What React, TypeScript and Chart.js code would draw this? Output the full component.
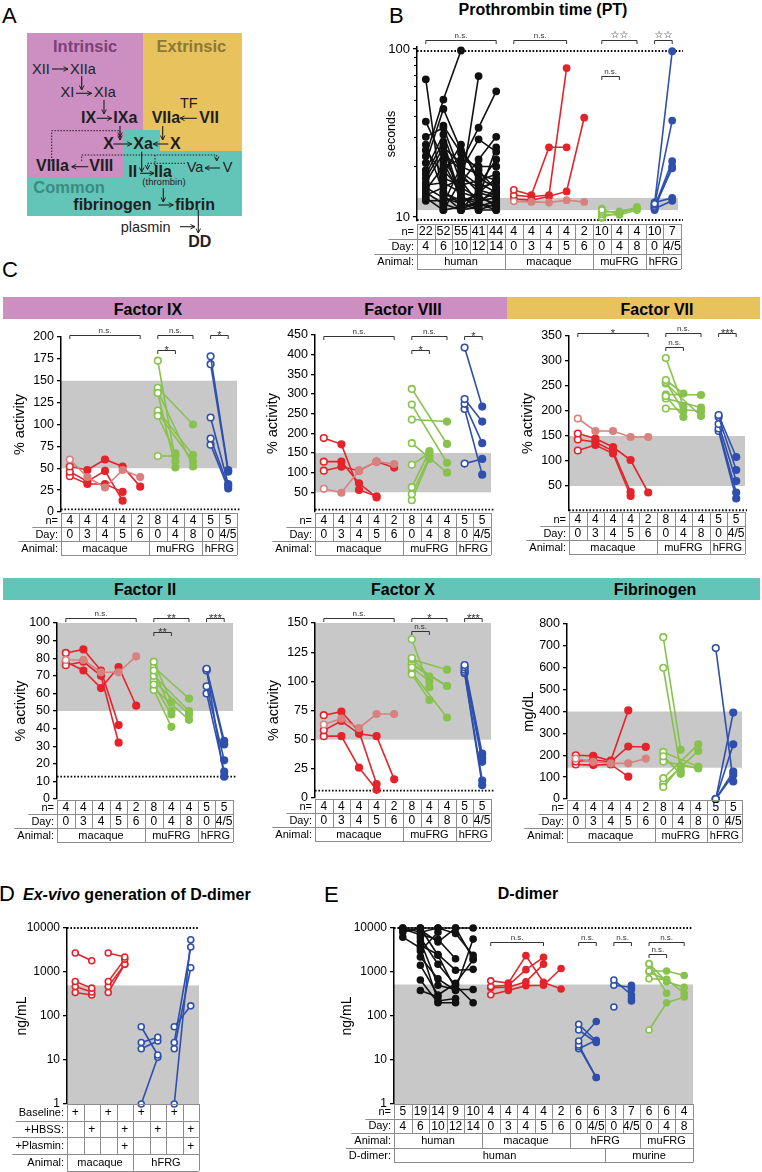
import React, { useEffect, useRef } from 'react';
import { Chart, registerables } from 'chart.js';

Chart.register(...registerables);

type V = number | null;
type Cell = [string, number];

const FONT = '"Liberation Sans", Arial, Helvetica, sans-serif';
const RED = '#e4232b';
const PALE = '#d8817f';
const GREEN = '#87c24d';
const BLUE = '#2f4fad';
const BLACK = '#111111';
const BAND = '#c8c8c8';
const GRID = '#8c8c8c';
const PINK = '#cd8fc1';
const GOLD = '#e8c25c';
const TEAL = '#63c5b8';
const DARK = '#1e1e1e';

const each = (a: string[]): Cell[] => a.map((t) => [t, 1] as Cell);

// ---------------- Panel B : Prothrombin time (seconds) ----------------
const PT_TICKS = [10, 100];
const PT_MINOR = [20, 30, 40, 50, 60, 70, 80, 90];
const PT_NORMAL = [11, 13];
const PT_LIMITS = [97.3, 9.6];
const PT_N = ['22', '52', '55', '41', '44', '4', '4', '4', '4', '2', '10', '4', '4', '10', '7'];
const PT_DAY = ['4', '6', '10', '12', '14', '0', '3', '4', '5', '6', '0', '4', '8', '0', '4/5'];
const PT_ANIMAL: Cell[] = [['human', 5], ['macaque', 5], ['muFRG', 3], ['hFRG', 2]];
const PT_HUMAN: V[][] = [
  [66, 11.5, null, null, null],
  [37, 22, 15, 13, 12],
  [30, 34, 18, 14, 13],
  [27, 14, 12, 11.5, null],
  [25, 18, 27, 16, 14],
  [23, 50, 98, null, null],
  [21, 44, 25, 17, 15],
  [19, 31, 16, 22, 30],
  [18, 28, 13, 12, 11.5],
  [17, 26, 21, 34, 56],
  [16, 24, 19, 29, 24.5],
  [15.5, 16, 14, 13, 26],
  [15, 13, 12, 14, 17],
  [14.5, 20, 22, 20, 20],
  [14, 12, 11, 11.5, 12.5],
  [13.5, 15, 17, 15, 16],
  [13, 11, 11.5, 12, 11],
  [12.5, 12.5, 13, 12.5, 13],
  [null, 35, 24, 19, 14.5],
  [null, 19, 14.5, 69, null],
  [null, 17, 15.5, 16.5, 18],
  [null, 14, 12.5, 13.5, 11.5],
  [null, 11, 16.5, 12, 15],
  [null, 21, 13.5, 11, 12],
  [null, 13.5, 11, 14.5, 13.5],
  [null, 12, 20, 18, 16.5],
  [null, 26.5, 12, 11, 11],
  [null, null, 11, 12.5, 14],
  [null, null, 18.5, 15.5, 22],
];
const PT_MAC: V[][] = [
  [14.5, 13.5, 26, 26, null],
  [13.5, 13.2, 13.5, 77, null],
  [12.8, 12.6, 13.3, 14.2, 39],
];
const PT_MAC_PALE: V[][] = [[12.4, 12.3, 12.2, 12.6, 12.3]];
const PT_MU: V[][] = [
  [11.0, 10.5, 11.5], [10.7, 10.8, 11.3], [10.4, 10.3, 11.0], [10.0, 10.6, 11.2],
  [10.9, null, null], [10.2, null, null], [9.9, null, null], [10.6, null, null], [11.2, null, null], [10.1, null, null],
];
const PT_HU: V[][] = [
  [12.0, 97], [11.8, 37.5], [11.5, 21.5], [11.3, 20], [11.6, 19.5], [11.2, 12.5], [12.2, 13],
  [11.0, null], [11.9, null], [11.4, null],
];

// ---------------- Panel C : shared table ----------------
const C_N = ['4', '4', '4', '4', '2', '8', '4', '4', '5', '5'];
const C_DAY = ['0', '3', '4', '5', '6', '0', '4', '8', '0', '4/5'];
const C_ANIMAL: Cell[] = [['macaque', 5], ['muFRG', 3], ['hFRG', 2]];

// Factor IX (% activity)
const FIX_TICKS = [0, 25, 50, 75, 100, 125, 150, 175, 200];
const FIX_NORMAL = [50, 150];
const FIX_MAC: V[][] = [[52, 48, 60, 52, 29], [46, 35, 47, 13, null], [41, 32, 32, 23, null]];
const FIX_MAC_PALE: V[][] = [[60, 40, 28, 48, 40]];
const FIX_MU: V[][] = [
  [173, 58, null], [136, 51, null], [110, 67, null], [64, 64, null],
  [142, null, 100], [116, null, 65], [113, null, 58], [138, null, 52],
];
const FIX_HU: V[][] = [[178, 48], [169, 46], [108, 32], [84, 30], [77, 27]];

// Factor VIII
const FVIII_TICKS = [50, 100, 150, 200, 250, 300, 350, 400, 450];
const FVIII_NORMAL = [50, 150];
const FVIII_MAC: V[][] = [[188, 172, 56, 40, null], [128, 128, 73, 37, null], [105, 115, 105, 128, 113]];
const FVIII_MAC_PALE: V[][] = [[59, 49, 105, 128, 122]];
const FVIII_MU: V[][] = [
  [120, 150, null], [63, 155, null], [45, 140, null], [30, 135, null],
  [313, null, 173], [273, null, 125], [235, null, 230], [175, null, 100],
];
const FVIII_HU: V[][] = [[418, 268], [287, 230], [275, 175], [262, 95], [123, 135]];

// Factor VII
const FVII_TICKS = [50, 100, 150, 200, 250, 300, 350];
const FVII_NORMAL = [50, 150];
const FVII_MAC: V[][] = [[155, 145, 128, 102, 37], [143, 138, 120, 38, null], [121, 132, 115, 30, null]];
const FVII_MAC_PALE: V[][] = [[185, 160, 160, 148, 148]];
const FVII_MU: V[][] = [
  [306, 210, null], [262, 235, null], [258, 200, null], [230, 188, null],
  [233, null, 232], [225, null, 207], [205, null, 200], [255, null, 190],
];
const FVII_HU: V[][] = [[192, 108], [188, 82], [174, 60], [165, 37], [160, 25]];

// Factor II
const FII_TICKS = [0, 10, 20, 30, 40, 50, 60, 70, 80, 90, 100];
const FII_NORMAL = [50, 100];
const FII_MAC: V[][] = [[83, 85, 73, 42, null], [76, 78, 70, 32, null], [78, 73, 63, 75, 53]];
const FII_MAC_PALE: V[][] = [[79, 79, 72, 72, 81]];
const FII_MU: V[][] = [
  [78, 55, null], [73, 50, null], [65, 48, null], [62, 41, null],
  [75, null, 57], [70, null, 50], [67, null, 48], [63, null, 45],
];
const FII_HU: V[][] = [[74, 33], [73, 31], [64, 22], [60, 15.5], [73.5, 12.7]];

// Factor X
const FX_TICKS = [0, 25, 50, 75, 100, 125, 150];
const FX_NORMAL = [50, 150];
const FX_MAC: V[][] = [[71, 74, 57, 12, null], [58, 66, 55, 53, 16], [53, 53, 26, 7, null]];
const FX_MAC_PALE: V[][] = [[63, 68, 60, 72, 72]];
const FX_MU: V[][] = [
  [136, 95, null], [120, 104, null], [112, 100, null], [106, 84, null],
  [119, null, 110], [115, null, 96], [108, null, 69], [114, null, 96],
];
const FX_HU: V[][] = [[114, 38], [112, 34], [110, 31], [108, 15], [107, 11]];

// Fibrinogen (mg/dL)
const FIB_TICKS = [0, 100, 200, 300, 400, 500, 600, 700, 800];
const FIB_NORMAL = [143, 400];
const FIB_MAC: V[][] = [[200, 197, 175, 405, null], [172, 178, 170, 240, 238], [158, 155, 158, 102, null]];
const FIB_MAC_PALE: V[][] = [[185, 170, 163, 163, 185]];
const FIB_MU: V[][] = [
  [740, 225, null], [600, 130, null], [55, 150, null], [195, 115, null],
  [215, null, 148], [172, null, 140], [95, null, 250], [70, null, 220],
];
const FIB_HU: V[][] = [[690, 80], [0, 395], [0, 250], [0, 110], [0, 125]];

// ---------------- Panel D : ex-vivo D-dimer (ng/mL) ----------------
const DD_TICKS = [1, 10, 100, 1000, 10000];
const DD_NORMAL = [1, 495];
const D_BASE = ['+', '', '+', '', '+', '', '+', ''];
const D_HBSS = ['', '+', '', '+', '', '+', '', '+'];
const D_PLAS = ['', '', '', '+', '', '', '', '+'];
const D_ANIMAL: Cell[] = [['macaque', 4], ['hFRG', 4]];
const D_MAC_HBSS: V[][] = [[2700, 1800], [610, 430], [470, 350], [343, 300]];
const D_MAC_PLAS: V[][] = [[2700, 2200], [610, 1960], [470, 1510], [343, 1500]];
const D_HU_HBSS: V[][] = [[57, 13], [25, 33], [18, 27], [1, 11.5]];
const D_HU_PLAS: V[][] = [[57, 170], [25, 3700], [18, 1250], [1, 5400]];

// ---------------- Panel E : D-dimer (ng/mL) ----------------
const E_N = ['5', '19', '14', '9', '10', '4', '4', '4', '4', '2', '6', '6', '3', '7', '6', '6', '4'];
const E_DAY = ['4', '6', '10', '12', '14', '0', '3', '4', '5', '6', '0', '4/5', '0', '4/5', '0', '4', '8'];
const E_ANIMAL: Cell[] = [['human', 5], ['macaque', 5], ['hFRG', 4], ['muFRG', 3]];
const E_DD: Cell[] = [['human', 12], ['murine', 5]];
const E_NORMAL = [1, 520];
const E_HUMAN: V[][] = [
  [10000, 10000, 10000, 10000, 10000],
  [9500, 7000, 5500, 2000, null],
  [8000, 10000, 2400, 400, 5600],
  [6200, 3500, 220, 250, null],
  [10000, 8000, 10000, 7500, 2400],
  [null, 6000, 1500, 500, 200],
  [null, 5000, 500, 400, 400],
  [null, 4000, 2500, 1100, 1150],
  [null, 2200, 700, 380, null],
  [null, 1420, 300, 550, 1900],
  [null, 660, 200, 200, null],
  [null, 380, 270, null, null],
  [null, 9000, 4800, 10000, 2000],
  [null, 3000, 8000, null, null],
];
const E_MAC: V[][] = [[630, 560, 2350, 580, 410], [470, 500, 1130, 2150, null], [440, 450, 600, 1510, null], [305, 380, 490, 500, 1200]];
const E_HFRG_H: V[][] = [[65, 27], [48, 25], [27, 75], [22, 4], [20, 4], [18, 28]];
const E_HFRG_M: V[][] = [[660, 300], [500, 450], [160, null], [null, 500], [null, 400], [null, 250], [null, 220]];
const E_MU: V[][] = [[1550, 600, 450], [1050, 1050, 830], [700, 680, 330], [48, 200, 270], [1500, 330, null], [1000, 650, null]];

// ---------------- chart configs ----------------
const cRows = () => [
  { label: 'n=', cells: each(C_N), size: 12 },
  { label: 'Day:', cells: each(C_DAY), size: 12 },
  { label: 'Animal:', cells: C_ANIMAL, size: 11 },
];
const cGroups = (mac: V[][], pale: V[][], mu: V[][], hu: V[][]) => [
  { rows: pale, start: 0, color: PALE },
  { rows: mac, start: 0, color: RED },
  { rows: mu, start: 5, color: GREEN },
  { rows: hu, start: 8, color: BLUE },
];

const CHART_B = {
  box: [370, 24, 690, 272], plot: [417, 47, 681, 221], ncols: 15, log: true,
  yMin: 9.47, yMax: 102.8, ticks: PT_TICKS, minor: PT_MINOR, tickSize: 13,
  yTitle: 'seconds', titleSize: 12.5, titleX: 392,
  band: PT_NORMAL, bandRight: 678, dotted: PT_LIMITS, dottedRight: 683,
  groups: [
    { rows: PT_HUMAN, start: 0, color: BLACK },
    { rows: PT_MAC_PALE, start: 5, color: PALE },
    { rows: PT_MAC, start: 5, color: RED },
    { rows: PT_MU, start: 10, color: GREEN },
    { rows: PT_HU, start: 13, color: BLUE },
  ],
  openCols: [5, 10, 13],
  brackets: [[0, 4, 'n.s.', 0], [5, 8, 'n.s.', 0], [10, 12, '☆☆', 0], [10, 11, 'n.s.', 1], [13, 14, '☆☆', 0]],
  bracketY: [-7, 29],
  rows: [
    { label: 'n=', cells: each(PT_N), size: 12.5 },
    { label: 'Day:', cells: each(PT_DAY), size: 12.5 },
    { label: 'Animal:', cells: PT_ANIMAL, size: 11 },
  ],
  tableGap: 3, rowH: 15, radius: 3.1,
};

const CHART_FIX = {
  box: [3, 321, 246, 560], plot: [61, 337, 237, 512], ncols: 10,
  yMin: 0, yMax: 200, ticks: FIX_TICKS, tickSize: 12.5,
  yTitle: '% activity', titleSize: 14.5, titleX: 20,
  band: FIX_NORMAL, bandRight: 237, dotted: [3], dottedRight: 240,
  groups: cGroups(FIX_MAC, FIX_MAC_PALE, FIX_MU, FIX_HU), openCols: [0, 5, 8],
  brackets: [[0, 4, 'n.s.', 0], [5, 7, 'n.s.', 0], [5, 6, '*', 1], [8, 9, '*', 0]],
  bracketY: [-2, 13], rows: cRows(), tableGap: 1, rowH: 14, radius: 3.3,
};
const CHART_FVIII = {
  box: [257, 321, 500, 560], plot: [315, 335, 491, 512], ncols: 10,
  yMin: 0, yMax: 450, ticks: FVIII_TICKS, tickSize: 12.5,
  yTitle: '% activity', titleSize: 14.5, titleX: 273,
  band: FVIII_NORMAL, bandRight: 491, dotted: [6], dottedRight: 494,
  groups: cGroups(FVIII_MAC, FVIII_MAC_PALE, FVIII_MU, FVIII_HU), openCols: [0, 5, 8],
  brackets: [[0, 4, 'n.s.', 0], [5, 7, 'n.s.', 0], [5, 6, '*', 1], [8, 9, '*', 0]],
  bracketY: [1, 15], rows: cRows(), tableGap: 1, rowH: 14, radius: 3.3,
};
const CHART_FVII = {
  box: [511, 321, 760, 560], plot: [569, 336, 745, 511], ncols: 10,
  yMin: 0, yMax: 350, ticks: FVII_TICKS, tickSize: 12.5,
  yTitle: '% activity', titleSize: 14.5, titleX: 528,
  band: FVII_NORMAL, bandRight: 745, dotted: [1.5], dottedRight: 747,
  groups: cGroups(FVII_MAC, FVII_MAC_PALE, FVII_MU, FVII_HU), openCols: [0, 5, 8],
  brackets: [[0, 4, '*', 0], [5, 7, 'n.s.', 0], [5, 6, 'n.s.', 1], [8, 9, '***', 0]],
  bracketY: [-3, 11], rows: cRows(), tableGap: 1, rowH: 14, radius: 3.3,
};
const CHART_FII = {
  box: [0, 604, 241, 848], plot: [57, 623, 233, 799], ncols: 10,
  yMin: 0, yMax: 100, ticks: FII_TICKS, tickSize: 12.5,
  yTitle: '% activity', titleSize: 14.5, titleX: 21,
  band: FII_NORMAL, bandRight: 233, dotted: [12.7], dottedRight: 236,
  groups: cGroups(FII_MAC, FII_MAC_PALE, FII_MU, FII_HU), openCols: [0, 5, 8],
  brackets: [[0, 4, 'n.s.', 0], [5, 7, '**', 0], [5, 6, '**', 1], [8, 9, '***', 0]],
  bracketY: [-5, 9], rows: cRows(), tableGap: 1, rowH: 14, radius: 3.3,
};
const CHART_FX = {
  box: [257, 604, 500, 848], plot: [315, 623, 491, 798], ncols: 10,
  yMin: 0, yMax: 150, ticks: FX_TICKS, tickSize: 12.5,
  yTitle: '% activity', titleSize: 14.5, titleX: 274,
  band: FX_NORMAL, bandRight: 491, dotted: [6.3], dottedRight: 494,
  groups: cGroups(FX_MAC, FX_MAC_PALE, FX_MU, FX_HU), openCols: [0, 5, 8],
  brackets: [[0, 4, 'n.s.', 0], [5, 7, '*', 0], [5, 6, 'n.s.', 1], [8, 9, '***', 0]],
  bracketY: [-5, 8], rows: cRows(), tableGap: 1, rowH: 14, radius: 3.3,
};
const CHART_FIB = {
  box: [509, 604, 760, 848], plot: [567, 624, 742, 799], ncols: 10,
  yMin: 0, yMax: 800, ticks: FIB_TICKS, tickSize: 12.5,
  yTitle: 'mg/dL', titleSize: 14.5, titleX: 529,
  band: FIB_NORMAL, bandRight: 742, dotted: [], dottedRight: 742,
  groups: cGroups(FIB_MAC, FIB_MAC_PALE, FIB_MU, FIB_HU), openCols: [0, 5, 8],
  brackets: [], bracketY: [0, 0], rows: cRows(), tableGap: 1, rowH: 14, radius: 3.3,
};
const CHART_D = {
  box: [0, 905, 210, 1172], plot: [67, 928, 199, 1104], ncols: 8, log: true,
  yMin: 1, yMax: 10000, ticks: DD_TICKS, tickSize: 12,
  yTitle: 'ng/mL', titleSize: 14, titleX: 22,
  band: DD_NORMAL, bandRight: 199, dotted: [10000], dottedRight: 199,
  groups: [
    { rows: D_MAC_HBSS, start: 0, color: RED },
    { rows: D_MAC_PLAS, start: 2, color: RED },
    { rows: D_HU_HBSS, start: 4, color: BLUE },
    { rows: D_HU_PLAS, start: 6, color: BLUE },
  ],
  openCols: [0, 1, 2, 3, 4, 5, 6, 7],
  brackets: [], bracketY: [0, 0],
  rows: [
    { label: 'Baseline:', cells: each(D_BASE), size: 12 },
    { label: '+HBSS:', cells: each(D_HBSS), size: 12 },
    { label: '+Plasmin:', cells: each(D_PLAS), size: 12 },
    { label: 'Animal:', cells: D_ANIMAL, size: 11 },
  ],
  tableGap: 0, rowH: 16.7, radius: 3,
};
const CHART_E = {
  box: [330, 905, 700, 1172], plot: [394, 928, 693, 1104], ncols: 17, log: true,
  yMin: 1, yMax: 10000, ticks: DD_TICKS, tickSize: 12,
  yTitle: 'ng/mL', titleSize: 14, titleX: 347,
  band: E_NORMAL, bandRight: 693, dotted: [10000], dottedRight: 693,
  groups: [
    { rows: E_HUMAN, start: 0, color: BLACK },
    { rows: E_MAC, start: 5, color: RED },
    { rows: E_HFRG_H, start: 10, color: BLUE },
    { rows: E_HFRG_M, start: 12, color: BLUE },
    { rows: E_MU, start: 14, color: GREEN },
  ],
  openCols: [5, 10, 12, 14],
  brackets: [[5, 8, 'n.s.', 0], [10, 11, 'n.s.', 0], [12, 13, 'n.s.', 0], [14, 16, 'n.s.', 0], [14, 15, 'n.s.', 1]],
  bracketY: [14, 26],
  rows: [
    { label: 'n=', cells: each(E_N), size: 12 },
    { label: 'Day:', cells: each(E_DAY), size: 12 },
    { label: 'Animal:', cells: E_ANIMAL, size: 11 },
    { label: 'D-dimer:', cells: E_DD, size: 11 },
  ],
  tableGap: 0, rowH: 14.6, radius: 3,
};

const CHARTS = [CHART_B, CHART_FIX, CHART_FVIII, CHART_FVII, CHART_FII, CHART_FX, CHART_FIB, CHART_D, CHART_E];

function Plot({ cfg }: { cfg: any }) {
  const ref = useRef<HTMLCanvasElement>(null);
  const [bl, bt, br, bb] = cfg.box;
  const W = br - bl;
  const H = bb - bt;
  useEffect(() => {
    const [ax, pt, pr, pb] = cfg.plot;
    const datasets: any[] = [];
    cfg.groups.forEach((g: any) =>
      g.rows.forEach((r: V[]) => {
        const pts: any[] = [];
        const bg: string[] = [];
        r.forEach((v, i) => {
          if (v == null) return;
          const x = g.start + i;
          pts.push({ x, y: v });
          bg.push(cfg.openCols.includes(x) ? '#ffffff' : g.color);
        });
        datasets.push({
          data: pts,
          borderColor: g.color,
          borderWidth: 1.6,
          pointRadius: cfg.radius,
          pointHoverRadius: cfg.radius,
          pointBorderWidth: 1.6,
          pointBackgroundColor: bg,
          pointBorderColor: g.color,
          showLine: true,
          tension: 0,
          clip: false,
        });
      })
    );

    const deco = {
      id: 'deco',
      beforeDraw(chart: any) {
        const { ctx, chartArea: ca, scales } = chart;
        const y = scales.y;
        ctx.save();
        if (cfg.band) {
          const y1 = y.getPixelForValue(cfg.band[1]);
          const y0 = y.getPixelForValue(cfg.band[0]);
          ctx.fillStyle = BAND;
          ctx.fillRect(ca.left, y1, cfg.bandRight - bl - ca.left, y0 - y1);
        }
        ctx.strokeStyle = '#000';
        ctx.lineWidth = 1.8;
        ctx.setLineDash([1.6, 1.8]);
        (cfg.dotted || []).forEach((v: number) => {
          const yy = y.getPixelForValue(v);
          ctx.beginPath();
          ctx.moveTo(ca.left, yy);
          ctx.lineTo(cfg.dottedRight - bl, yy);
          ctx.stroke();
        });
        ctx.restore();
      },
      afterDraw(chart: any) {
        const { ctx, chartArea: ca, scales } = chart;
        const xs = scales.x;
        const ys = scales.y;
        const L = ca.left;
        const R = ca.right;
        const cw = (R - L) / cfg.ncols;
        ctx.save();
        ctx.setLineDash([]);
        // minor ticks on the axis
        ctx.strokeStyle = '#000';
        ctx.lineWidth = 1.1;
        (cfg.minor || []).forEach((v: number) => {
          const yy = Math.round(ys.getPixelForValue(v)) + 0.5;
          ctx.beginPath();
          ctx.moveTo(L - 3, yy);
          ctx.lineTo(L, yy);
          ctx.stroke();
        });
        // table
        ctx.strokeStyle = GRID;
        ctx.lineWidth = 1;
        ctx.fillStyle = '#000';
        ctx.textBaseline = 'middle';
        ctx.font = `11px ${FONT}`;
        const lw = cfg.rows.map((r: any) => ctx.measureText(r.label).width);
        const hline = (x0: number, x1: number, yy: number) => {
          const y = Math.round(yy) + 0.5;
          ctx.beginPath();
          ctx.moveTo(x0, y);
          ctx.lineTo(x1, y);
          ctx.stroke();
        };
        const vline = (xx: number, y0: number, y1: number) => {
          const x = Math.round(xx) + 0.5;
          ctx.beginPath();
          ctx.moveTo(x, y0);
          ctx.lineTo(x, y1);
          ctx.stroke();
        };
        let yy = ca.bottom + cfg.tableGap;
        hline(L, R, yy);
        cfg.rows.forEach((row: any, i: number) => {
          const y0 = yy;
          const y1 = yy + cfg.rowH;
          const ym = (y0 + y1) / 2 + 0.5;
          ctx.font = `11px ${FONT}`;
          ctx.textAlign = 'right';
          ctx.fillText(row.label, L - 3, ym);
          vline(L, y0, y1);
          let c = 0;
          row.cells.forEach(([t, span]: Cell) => {
            const xa = L + c * cw;
            const xb = L + (c + span) * cw;
            ctx.font = `${row.size}px ${FONT}`;
            ctx.textAlign = 'center';
            ctx.fillText(t, (xa + xb) / 2, ym);
            vline(xb, y0, y1);
            c += span;
          });
          const ext = i < cfg.rows.length - 1 ? Math.max(lw[i], lw[i + 1]) + 6 : 0;
          hline(L - ext, R, y1);
          yy = y1;
        });
        // brackets
        ctx.strokeStyle = '#333';
        ctx.fillStyle = '#333';
        ctx.lineWidth = 1;
        ctx.textBaseline = 'alphabetic';
        ctx.textAlign = 'center';
        cfg.brackets.forEach(([a, b, lab, lev]: any) => {
          const x0 = xs.getPixelForValue(a);
          const x1 = xs.getPixelForValue(b);
          const y = Math.round(ca.top + cfg.bracketY[lev]) + 0.5;
          ctx.beginPath();
          ctx.moveTo(x0, y + 3.5);
          ctx.lineTo(x0, y);
          ctx.lineTo(x1, y);
          ctx.lineTo(x1, y + 3.5);
          ctx.stroke();
          const star = lab.includes('*');
          const open = lab.includes('☆');
          ctx.fillStyle = open ? '#111' : '#333';
          ctx.font = `${star ? 11 : open ? 10 : 8}px ${open ? '"DejaVu Sans", sans-serif' : FONT}`;
          ctx.fillText(lab, (x0 + x1) / 2, star ? y + 3 : y - 2.5);
        });
        ctx.restore();
      },
    };

    const chart = new Chart(ref.current as HTMLCanvasElement, {
      type: 'line',
      data: { datasets },
      options: {
        responsive: false,
        animation: false,
        devicePixelRatio: 1,
        events: [],
        layout: { autoPadding: false, padding: { left: 0, top: pt - bt, right: br - pr, bottom: bb - pb } },
        plugins: { legend: { display: false }, tooltip: { enabled: false }, title: { display: false } },
        scales: {
          x: { type: 'linear', display: false, min: -0.5, max: cfg.ncols - 0.5 },
          y: {
            type: cfg.log ? 'logarithmic' : 'linear',
            min: cfg.yMin,
            max: cfg.yMax,
            afterFit: (s: any) => {
              s.width = ax - bl;
            },
            afterBuildTicks: (s: any) => {
              s.ticks = cfg.ticks.map((v: number) => ({ value: v }));
            },
            ticks: {
              font: { family: FONT, size: cfg.tickSize },
              color: '#000',
              padding: 3,
              autoSkip: false,
              maxRotation: 0,
              callback: (v: any) => String(v),
            },
            grid: { drawOnChartArea: false, drawTicks: true, tickLength: 4, color: '#000', lineWidth: 1.3 },
            border: { display: true, color: '#000', width: 1.5 },
            title: {
              display: true,
              text: cfg.yTitle,
              color: '#000',
              font: { family: FONT, size: cfg.titleSize },
              padding: { top: cfg.titleX - bl - 0.6 * cfg.titleSize, bottom: 0 },
            },
          },
        },
      } as any,
      plugins: [deco],
    });
    return () => chart.destroy();
  }, [cfg]);
  return (
    <canvas
      ref={ref}
      width={W}
      height={H}
      style={{ position: 'absolute', left: bl, top: bt, width: W, height: H }}
    />
  );
}

// ---------------- Panel A diagram (positions only) ----------------
const A_TEXT: [string, number, number, number, number, string][] = [
  ['Intrinsic', 53, 51.5, 16.5, 700, '#7c3f78'],
  ['Extrinsic', 156.5, 51.5, 16.5, 700, '#8f7737'],
  ['XII', 32, 74, 14.5, 400, DARK],
  ['XIIa', 70, 74, 14.5, 400, DARK],
  ['XI', 60.5, 97.3, 14.5, 400, DARK],
  ['XIa', 94, 97.3, 14.5, 400, DARK],
  ['IX', 81, 123.3, 16, 700, DARK],
  ['IXa', 113.3, 123.3, 16, 700, DARK],
  ['TF', 180, 108.3, 14.5, 400, DARK],
  ['VIIa', 151.7, 123.3, 16, 700, DARK],
  ['VII', 199.3, 123.3, 16, 700, DARK],
  ['X', 103.3, 149, 16, 700, DARK],
  ['Xa', 133.3, 149, 16, 700, DARK],
  ['X', 170, 149, 16, 700, DARK],
  ['VIIIa', 36, 170.7, 16, 700, DARK],
  ['VIII', 89.3, 170.7, 16, 700, DARK],
  ['II', 128.3, 177.3, 16, 700, DARK],
  ['IIa', 154, 177.3, 16, 700, DARK],
  ['Va', 186.7, 172.3, 14.5, 400, DARK],
  ['V', 222.7, 172.3, 14.5, 400, DARK],
  ['Common', 33.3, 193.3, 16.5, 700, '#3c8b81'],
  ['fibrinogen', 73.3, 210, 16, 700, DARK],
  ['fibrin', 175, 210, 16, 700, DARK],
  ['plasmin', 120.7, 231.7, 14.5, 400, DARK],
  ['DD', 188.3, 246.7, 16, 700, DARK],
];
const A_ARROWS: number[][] = [
  [52, 69, 68, 69], [81.7, 76, 81.7, 90], [76, 93.3, 91.7, 93.3], [104, 100, 104, 114],
  [96.7, 118.3, 111.7, 118.3], [196.7, 118.3, 180, 118.3], [120, 126, 120, 140], [162.7, 126, 162.7, 140],
  [113.3, 144, 131.7, 144], [168.3, 144, 153.3, 144], [88.3, 166.7, 71.7, 166.7], [141.7, 151.7, 141.7, 172],
  [140, 173.3, 154, 173.3], [220, 168, 205, 168], [163.3, 188.3, 163.3, 202], [158.3, 205, 173.3, 205],
  [198.3, 210, 198.3, 233], [180, 226.7, 195, 226.7],
];
const A_DOTTED: string[] = [
  '51.7,161 51.7,130.7 120,130.7 120,137',
  '81.7,161 81.7,155 216.7,155 216.7,161',
  '185,163.3 147.5,163.3 147.5,169.5',
];

function Overlay() {
  const t = (s: string, x: number, y: number, size: number, weight = 400, anchor = 'start') => (
    <text x={x} y={y} fontSize={size} fontWeight={weight} textAnchor={anchor} fill="#000">
      {s}
    </text>
  );
  return (
    <svg width={762} height={1172} style={{ position: 'absolute', left: 0, top: 0, fontFamily: FONT }}>
      <defs>
        <marker id="ah" viewBox="0 0 8 8" refX="7" refY="4" markerWidth="6" markerHeight="6" orient="auto" markerUnits="userSpaceOnUse">
          <path d="M1,1 L7,4 L1,7" fill="none" stroke={DARK} strokeWidth="1.3" />
        </marker>
      </defs>
      {/* Panel A */}
      <polygon points="27,33 143,33 143,130 124,130 124,177 27,177" fill={PINK} />
      <polygon points="143,33 242,33 242,151 160,151 160,130 143,130" fill={GOLD} />
      <polygon points="124,130 160,130 160,151 242,151 242,216 27,216 27,177 124,177" fill={TEAL} />
      {A_TEXT.map(([s, x, y, size, w, c], i) => (
        <text key={i} x={x} y={y} fontSize={size} fontWeight={w} fill={c}>
          {s}
        </text>
      ))}
      <text x={164} y={185} fontSize={9.5} textAnchor="middle" fill={DARK}>
        (thrombin)
      </text>
      {A_ARROWS.map(([x1, y1, x2, y2], i) => (
        <line key={i} x1={x1} y1={y1} x2={x2} y2={y2} stroke={DARK} strokeWidth={1.1} markerEnd="url(#ah)" />
      ))}
      {A_DOTTED.map((p, i) => (
        <polyline key={i} points={p} fill="none" stroke={DARK} strokeWidth={1} strokeDasharray="1.5 1.5" markerEnd="url(#ah)" />
      ))}
      <line x1={155} y1={155} x2={155} y2={167} stroke={DARK} strokeWidth={1} strokeDasharray="1.5 1.5" />

      {/* panel letters & titles */}
      {t('A', 2, 23, 22)}
      {t('B', 389, 23, 22)}
      {t('C', 2, 277, 22)}
      {t('D', -1, 901, 22)}
      {t('E', 324, 902, 22)}
      {t('Prothrombin time (PT)', 543, 15, 16, 700, 'middle')}
      <text x={23} y={900} fontSize={16} fontWeight={700}>
        <tspan fontStyle="italic">Ex-vivo</tspan> generation of D-dimer
      </text>
      {t('D-dimer', 528, 899, 16, 700, 'middle')}

      {/* Panel C header bars */}
      <rect x={3} y={297} width={504} height={22} fill={PINK} />
      <rect x={507} y={297} width={253} height={22} fill={GOLD} />
      <rect x={3} y={578} width={757} height={22} fill={TEAL} />
      {t('Factor IX', 148, 315, 16, 700, 'middle')}
      {t('Factor VIII', 403, 315, 16, 700, 'middle')}
      {t('Factor VII', 657, 315, 16, 700, 'middle')}
      {t('Factor II', 145, 595, 16, 700, 'middle')}
      {t('Factor X', 403, 595, 16, 700, 'middle')}
      {t('Fibrinogen', 655, 595, 16, 700, 'middle')}
    </svg>
  );
}

export default function App() {
  return (
    <div style={{ position: 'absolute', left: 0, top: 0, width: 762, height: 1172, background: '#fff', overflow: 'hidden' }}>
      <Overlay />
      {CHARTS.map((c, i) => (
        <Plot key={i} cfg={c} />
      ))}
    </div>
  );
}
